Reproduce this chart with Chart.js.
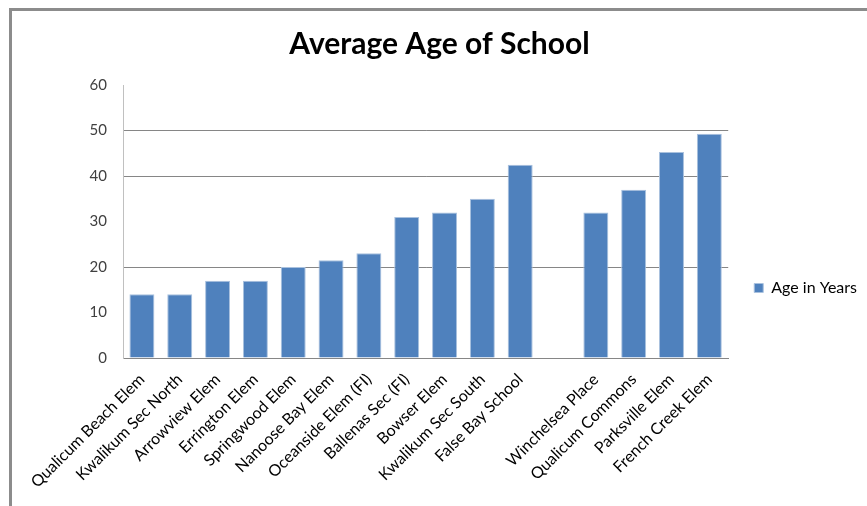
<!DOCTYPE html>
<html>
<head>
  <title>Average Age of School</title>
  <script src="https://cdn.jsdelivr.net/npm/chart.js"></script>
  <style>
    body {
      margin: 0;
      background: #ffffff;
      overflow: hidden;
    }

    .frame {
      position: absolute;
      left: 9px;
      top: 8px;
      width: 900px;
      height: 600px;
      border-left: 3px solid #8c8c8c;
      border-top: 3px solid #8c8c8c;
      overflow: hidden;
    }
  </style>
</head>
<body>
  <div class="frame">
    <canvas id="ageChart" width="855" height="554"></canvas>
  </div>

  <script>
    const schools = [
      "Qualicum Beach Elem", "Kwalikum Sec North", "Arrowview Elem", "Errington Elem",
      "Springwood Elem", "Nanoose Bay Elem", "Oceanside Elem (FI)", "Ballenas Sec (FI)",
      "Bowser Elem", "Kwalikum Sec South", "False Bay School", "",
      "Winchelsea Place", "Qualicum Commons", "Parksville Elem", "French Creek Elem"
    ];
    const ageInYears = [14, 14, 17, 17, 20, 21.5, 23, 31, 32, 35, 42.5, null, 32, 37, 45.3, 49.3];
    const yTicks = [0, 10, 20, 30, 40, 50, 60];
    // only these gridlines show up in the original render
    const shownGrid = [20, 40, 50];

    const tickFont = { family: "Lato", size: 15 };
    const labelFont = { family: "Lato", size: 16 };

    const ctx = document.getElementById("ageChart").getContext("2d");
    new Chart(ctx, {
      type: "bar",
      data: {
        labels: schools,
        datasets: [{
          label: "Age in Years",
          data: ageInYears,
          backgroundColor: "#4f81bd",
          borderColor: "#a9c1de",
          borderWidth: 1,
          barPercentage: 0.66,
          categoryPercentage: 1
        }]
      },
      options: {
        animation: false,
        responsive: false,
        layout: { padding: { left: 0, right: 0, top: 0, bottom: 0 } },
        plugins: {
          title: {
            display: true,
            text: "Average Age of School",
            color: "#000000",
            font: { family: "Lato", size: 30, weight: "bold" },
            padding: { top: 15, bottom: 23 }
          },
          legend: {
            position: "right",
            labels: {
              boxWidth: 9,
              boxHeight: 9,
              padding: 26,
              color: "#000000",
              font: labelFont
            }
          },
          tooltip: { enabled: false }
        },
        scales: {
          x: {
            grid: { display: false },
            border: { display: true, color: "#868686", width: 1 },
            ticks: {
              autoSkip: false,
              minRotation: 45,
              maxRotation: 45,
              color: "#000000",
              font: labelFont,
              padding: 4
            },
            afterFit: (scale) => { scale.height = 207; }
          },
          y: {
            min: yTicks[0],
            max: yTicks[yTicks.length - 1],
            afterBuildTicks: (scale) => {
              scale.ticks = yTicks.map(v => ({ value: v }));
            },
            grid: {
              drawTicks: false,
              color: (c) => shownGrid.includes(c.tick.value) ? "#868686" : "rgba(0,0,0,0)"
            },
            border: { display: true, color: "#c0c0c0", width: 1 },
            ticks: {
              color: "#404040",
              font: tickFont,
              padding: 16
            },
            afterFit: (scale) => { scale.width = 111; }
          }
        }
      }
    });
  </script>
</body>
</html>
